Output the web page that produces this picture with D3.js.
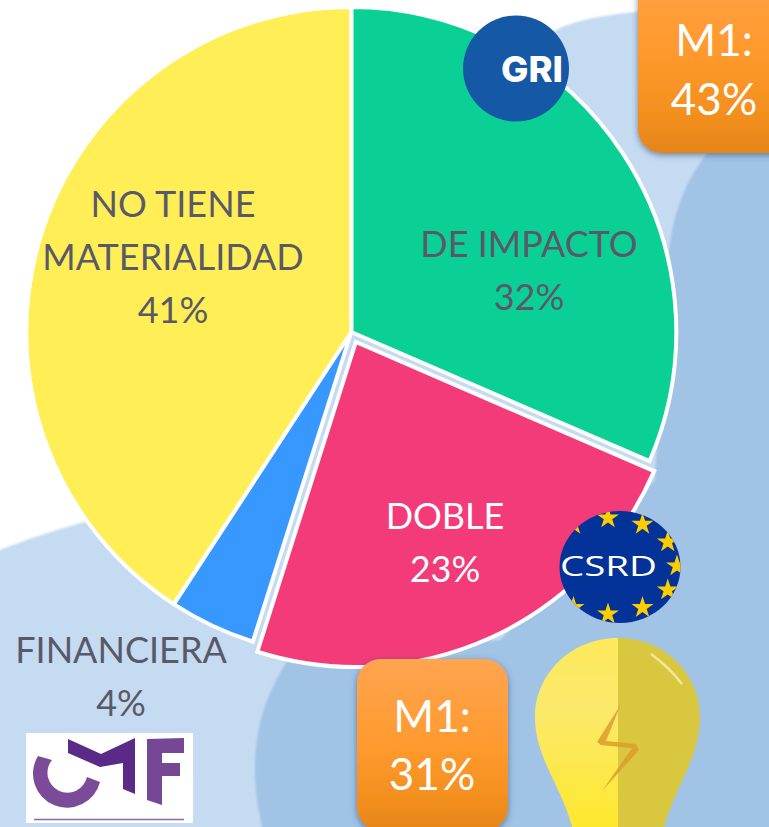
<!DOCTYPE html>
<html>
<head>
<meta charset="utf-8">
<script src="https://cdn.jsdelivr.net/npm/d3@7/dist/d3.min.js"></script>
<style>
html,body{margin:0;padding:0;background:#fff;overflow:hidden}
svg{display:block}
text{font-family:Lato,"Open Sans",sans-serif}
</style>
</head>
<body>
<div id="chart"></div>
<script>
// Data
const categories = ["DE IMPACTO", "DOBLE", "FINANCIERA", "NO TIENE MATERIALIDAD"];
const shares = [31.5, 23.4, 4.3, 40.8];
const sliceColors = ["#0ad095", "#f33b79", "#3799ff", "#ffee55"];
const m1Labels = ["M1:", "M1:"];
const m1Values = [43, 31];

const W = 769, H = 827;
const svg = d3.select("#chart").append("svg").attr("width", W).attr("height", H);
const defs = svg.append("defs");

const grad = defs.append("linearGradient").attr("id", "orange").attr("x1", 0).attr("x2", 0).attr("y1", 0).attr("y2", 1);
[[0, "#ffa450"], [0.5, "#ff9a2e"], [0.8, "#f4901f"], [1, "#e58518"]].forEach(s =>
  grad.append("stop").attr("offset", s[0]).attr("stop-color", s[1]));
const shadow = defs.append("filter").attr("id", "shadow").attr("x", "-20%").attr("y", "-20%").attr("width", "140%").attr("height", "140%");
shadow.append("feDropShadow").attr("dx", 0).attr("dy", 2).attr("stdDeviation", 3).attr("flood-color", "#2c4a6e").attr("flood-opacity", 0.6);
const soft = defs.append("filter").attr("id", "soft").attr("x", "-10%").attr("y", "-10%").attr("width", "120%").attr("height", "120%");
soft.append("feGaussianBlur").attr("stdDeviation", 1.2);
const bulbL = defs.append("linearGradient").attr("id", "bulbL").attr("x1", 0).attr("x2", 0).attr("y1", 0).attr("y2", 1);
[[0, "#fde95a"], [0.35, "#fbe96c"], [1, "#ffe82a"]].forEach(s =>
  bulbL.append("stop").attr("offset", s[0]).attr("stop-color", s[1]));

// ---- background blobs
svg.append("path").attr("fill", "#c5dbf1").attr("filter", "url(#soft)")
  .attr("d", "M-5,552 C40,534 90,518 160,505 L250,200 L560,28 C590,16 620,10 790,2 L790,840 L-5,840 Z");
svg.append("path").attr("fill", "#a0c3e6").attr("filter", "url(#soft)")
  .attr("d", "M710,150 C685,180 672,215 668,260 L655,480 L500,640 L288,660 C262,700 255,735 255,770 C255,790 258,810 264,835 L790,835 L790,118 C760,125 730,135 710,150 Z");

// ---- pie
const cx = 351.3, cy = 332, R = 325;
const pie = d3.pie().sort(null).value(d => d.v);
const arc = d3.arc().innerRadius(0).outerRadius(R);
const arcs = pie(categories.map((c, i) => ({ c, v: shares[i], color: sliceColors[i] })));
// The DOBLE slice is pulled out of the pie by a few pixels
const explode = [0, 11, 0, 0];
const pieG = svg.append("g").attr("transform", `translate(${cx},${cy})`);
pieG.selectAll("path.slice").data(arcs).join("path")
  .attr("class", "slice")
  .attr("d", arc)
  .attr("fill", d => d.data.color)
  .attr("stroke", "#fff").attr("stroke-width", 4).attr("stroke-linejoin", "miter")
  .attr("transform", (d, i) => {
    const a = (d.startAngle + d.endAngle) / 2;
    return `translate(${Math.sin(a) * explode[i]},${-Math.cos(a) * explode[i]})`;
  });

// ---- slice labels
const pct = d3.format(".0f");
const labelStyles = [
  { lines: ["DE IMPACTO"], x: 529, y: 257, fill: "#595968" },
  { lines: ["DOBLE"], x: 445, y: 529, fill: "#ffffff" },
  { lines: ["FINANCIERA"], x: 121, y: 663, fill: "#595968" },
  { lines: ["NO TIENE", "MATERIALIDAD"], x: 173, y: 217, fill: "#595968" }
];
const lineH = 53;
labelStyles.forEach((s, i) => {
  const t = svg.append("text").attr("text-anchor", "middle").attr("font-size", 36).attr("fill", s.fill);
  s.lines.concat(pct(shares[i]) + "%").forEach((ln, j) => {
    t.append("tspan").attr("x", s.x).attr("y", s.y + j * lineH).text(ln);
  });
});

// ---- GRI badge
svg.append("circle").attr("cx", 516).attr("cy", 68.5).attr("r", 53).attr("fill", "#1458a6");
svg.append("text").attr("x", 501).attr("y", 82).attr("font-size", 36).attr("font-weight", 800)
  .style("font-family", "Inter").attr("fill", "#fff").attr("textLength", 62).attr("lengthAdjust", "spacingAndGlyphs").text("GRI");

// ---- CSRD badge
defs.append("clipPath").attr("id", "csrdClip").append("ellipse")
  .attr("cx", 620).attr("cy", 567).attr("rx", 60.5).attr("ry", 56);
const csrd = svg.append("g").attr("clip-path", "url(#csrdClip)");
csrd.append("rect").attr("x", 555).attr("y", 505).attr("width", 130).attr("height", 125).attr("fill", "#033399");
const starPath = d3.symbol().type(d3.symbolStar).size(150)();
d3.range(12).forEach(i => {
  const a = i * Math.PI / 6;
  csrd.append("path").attr("d", starPath).attr("fill", "#ffcc00")
    .attr("transform", `translate(${608 + 69 * Math.sin(a)},${566 - 48 * Math.cos(a)})`);
});
csrd.append("text").attr("x", 560).attr("y", 576).attr("font-size", 27).attr("fill", "#fff")
  .style("font-family", "'Open Sans'").attr("textLength", 97).attr("lengthAdjust", "spacingAndGlyphs").text("CSRD");

// ---- M1 call-outs
const boxes = [
  { x: 638, y: -60, w: 170, h: 213, tx: 714, ty: [56, 115] },
  { x: 357, y: 659, w: 151, h: 172, tx: 432, ty: [732, 790] }
];
boxes.forEach((b, i) => {
  svg.append("rect").attr("x", b.x).attr("y", b.y).attr("width", b.w).attr("height", b.h)
    .attr("rx", 24).attr("fill", "url(#orange)").attr("filter", "url(#shadow)");
  const t = svg.append("text").attr("text-anchor", "middle").attr("font-size", 44).attr("fill", "#fff");
  t.append("tspan").attr("x", b.tx).attr("y", b.ty[0]).text(m1Labels[i]);
  t.append("tspan").attr("x", b.tx).attr("y", b.ty[1]).text(m1Values[i] + "%");
});

// ---- light bulb
const bulb = svg.append("g");
bulb.append("path").attr("fill", "url(#bulbL)")
  .attr("d", "M618,638 C570,638 535,675 535,717 C535,760 565,790 574,835 L618,835 Z");
bulb.append("path").attr("fill", "#d9c83f")
  .attr("d", "M618,638 C666,638 700,675 700,717 C700,760 672,790 662,835 L618,835 Z");
bulb.append("path").attr("fill", "none").attr("stroke", "#f3e89a").attr("stroke-width", 2.5)
  .attr("d", "M651,654 Q670,668 682,684");
bulb.append("path").attr("fill", "#dc9c2a").attr("opacity", 0.85)
  .attr("d", "M621,704 L597,742 L601,745 L632,748 L602,791 L639,750 L636,744 L606,741 Z");

// ---- CMF logo
const logo = svg.append("g");
logo.append("rect").attr("x", 26).attr("y", 733).attr("width", 167).attr("height", 90).attr("fill", "#fff");
logo.append("path").attr("fill", "#7b4a98")
  .attr("d", "M38,756 A34,34 0 1 0 100,782 L87,777 A20,20 0 1 1 52,760 Z");
logo.append("path").attr("fill", "#5a2a86")
  .attr("d", "M68,739 L101,754 L135,738 L135,794 L123,789 L123,763 L100,767 L68,753 Z");
logo.append("path").attr("fill", "#754795")
  .attr("d", "M147,739 L184,738 L184,753 L162,753 L162,763 L180,763 L180,776 L162,776 L162,805 L147,800 Z");
logo.append("line").attr("x1", 34).attr("x2", 184).attr("y1", 819.5).attr("y2", 819.5)
  .attr("stroke", "#8a6aa5").attr("stroke-width", 1.5);
</script>
</body>
</html>
